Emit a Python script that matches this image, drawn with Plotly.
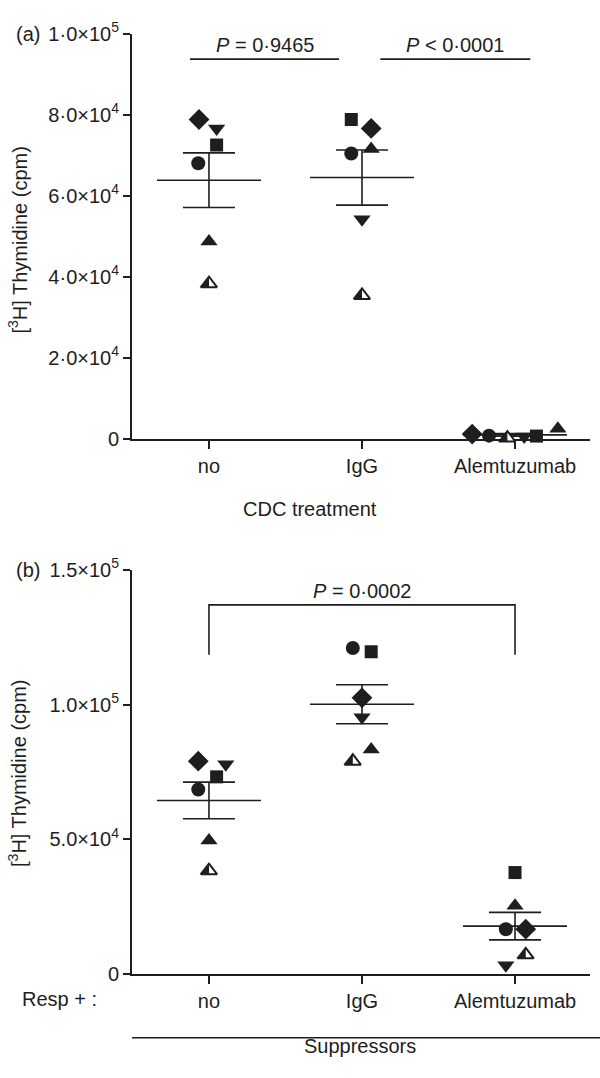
import numpy as np
import plotly.graph_objects as go

W, H = 600, 1078

groups = ['no', 'IgG', 'Alemtuzumab']
donors = ['circle', 'square', 'triangle', 'triangle-down', 'diamond', 'half-triangle']

# panel (a): CDC treatment
a_no = [68000, 72500, 48700, 76600, 78800, 38300]
a_igg = [70400, 78800, 71500, 54200, 76600, 35400]
a_alem = [800, 700, 2500, 600, 1200, 200]
# panel (b): Resp + suppressors
b_no = [68500, 73200, 49600, 77900, 79000, 38400]
b_igg = [121000, 119600, 83300, 95300, 102500, 79000]
b_alem = [16700, 37700, 25400, 3300, 16700, 7200]

# horizontal scatter of the points inside each column
a_jit = [[-0.07, 0.05, 0.0, 0.05, -0.065, 0.0],
         [-0.07, -0.07, 0.06, 0.0, 0.06, 0.0],
         [-0.17, 0.14, 0.28, 0.06, -0.28, -0.05]]
b_jit = [[-0.07, 0.05, 0.0, 0.11, -0.07, 0.0],
         [-0.06, 0.06, 0.06, 0.0, 0.0, -0.06],
         [-0.06, 0.0, 0.0, -0.06, 0.07, 0.07]]

a_ticks = [0, 20000, 40000, 60000, 80000, 100000]
a_ticktext = ['0', '2·0×10<sup>4</sup>', '4·0×10<sup>4</sup>', '6·0×10<sup>4</sup>',
              '8·0×10<sup>4</sup>', '1·0×10<sup>5</sup>']
b_ticks = [0, 50000, 100000, 150000]
b_ticktext = ['0', '5.0×10<sup>4</sup>', '1.0×10<sup>5</sup>', '1.5×10<sup>5</sup>']

INK = '#1e1e1e'
FONT = 'Liberation Sans, Arial, sans-serif'
FS = 20

sym = {'circle': ('circle', 14), 'square': ('square', 13), 'triangle': ('triangle-up', 15),
       'triangle-down': ('triangle-down', 15), 'diamond': ('diamond', 16),
       'half-triangle': ('triangle-up', 14)}

# plot area in pixels
X0, X1 = 132, 590
A_TOP, A_BOT = 20, 435
B_TOP, B_BOT = 569, 983
xrange = [-0.503, 2.49]
a_range = [0, 100000]
b_range = [0, 150000]


def py(px):
    return 1 - px / H


ux = (xrange[1] - xrange[0]) / (X1 - X0)          # x units per pixel
uy = {'y': (a_range[1] - a_range[0]) / (A_BOT - A_TOP),
      'y2': (b_range[1] - b_range[0]) / (B_BOT - B_TOP)}

fig = go.Figure()


def add_panel(fig, data, jit, xa, ya):
    for gi, vals in enumerate(data):
        vals = np.array(vals, dtype=float)
        m = vals.mean()
        sem = vals.std(ddof=1) / np.sqrt(len(vals))
        # mean line and sem bar
        fig.add_trace(go.Scatter(x=[gi - 0.34, gi + 0.34], y=[m, m], mode='lines',
                                 line=dict(color=INK, width=1.6), xaxis=xa, yaxis=ya,
                                 showlegend=False, hoverinfo='skip'))
        for v in (m - sem, m + sem):
            fig.add_trace(go.Scatter(x=[gi - 0.17, gi + 0.17], y=[v, v], mode='lines',
                                     line=dict(color=INK, width=1.6), xaxis=xa, yaxis=ya,
                                     showlegend=False, hoverinfo='skip'))
        fig.add_trace(go.Scatter(x=[gi, gi], y=[m - sem, m + sem], mode='lines',
                                 line=dict(color=INK, width=1.6), xaxis=xa, yaxis=ya,
                                 showlegend=False, hoverinfo='skip'))
        for di, d in enumerate(donors):
            s, size = sym[d]
            xv = gi + jit[gi][di]
            if d == 'half-triangle':
                # open triangle with its left half filled
                fig.add_trace(go.Scatter(x=[xv], y=[vals[di]], mode='markers',
                                         marker=dict(symbol='triangle-up', size=size, color='white',
                                                     line=dict(color=INK, width=2)),
                                         xaxis=xa, yaxis=ya, showlegend=False, cliponaxis=False))
                hs = 10.5
                r = size / 2
                dx = -0.6 * hs / 2
                dy = r / 2 - 0.6 * hs / 2
                fig.add_trace(go.Scatter(x=[xv + dx * ux], y=[vals[di] - dy * uy[ya]],
                                         mode='markers',
                                         marker=dict(symbol='triangle-se', size=hs, color=INK,
                                                     line=dict(width=0)),
                                         xaxis=xa, yaxis=ya, showlegend=False, cliponaxis=False))
            else:
                fig.add_trace(go.Scatter(x=[xv], y=[vals[di]], mode='markers',
                                         marker=dict(symbol=s, size=size, color=INK,
                                                     line=dict(width=0)),
                                         xaxis=xa, yaxis=ya, showlegend=False, cliponaxis=False))


add_panel(fig, [a_no, a_igg, a_alem], a_jit, 'x', 'y')
add_panel(fig, [b_no, b_igg, b_alem], b_jit, 'x2', 'y2')

xdom = [X0 / W, X1 / W]
axis_font = dict(family=FONT, size=FS, color=INK)

xcommon = dict(range=xrange, domain=xdom, tickvals=[0, 1, 2], ticktext=groups,
               showline=True, linecolor=INK, linewidth=2, ticks='outside', ticklen=8,
               tickwidth=2, tickcolor=INK, showgrid=False, zeroline=False,
               tickfont=axis_font, layer='below traces')
ycommon = dict(showline=True, linecolor=INK, linewidth=2, ticks='outside', ticklen=7,
               tickwidth=2, tickcolor=INK, showgrid=False, zeroline=False,
               tickfont=axis_font, layer='below traces')

fig.update_layout(
    width=W, height=H, margin=dict(l=0, r=0, t=0, b=0),
    paper_bgcolor='white', plot_bgcolor='white',
    font=dict(family=FONT, color=INK),
    xaxis=dict(anchor='y', **xcommon),
    yaxis=dict(anchor='x', domain=[py(A_BOT), py(A_TOP)], range=a_range,
               tickvals=a_ticks, ticktext=a_ticktext, **ycommon),
    xaxis2=dict(anchor='y2', **xcommon),
    yaxis2=dict(anchor='x2', domain=[py(B_BOT), py(B_TOP)], range=b_range,
                tickvals=b_ticks, ticktext=b_ticktext, **ycommon),
)

# significance bars, panel (a)
p_a = [(-0.124, 0.85, '<i>P</i> = 0·9465'), (1.12, 2.1, '<i>P</i> < 0·0001')]
for x0, x1, txt in p_a:
    fig.add_shape(type='line', xref='x', yref='y', x0=x0, x1=x1, y0=93700, y1=93700,
                  line=dict(color=INK, width=1.6))
    fig.add_annotation(xref='x', yref='y', x=(x0 + x1) / 2, y=93700, text=txt,
                       showarrow=False, yanchor='bottom', yshift=1,
                       font=dict(family=FONT, size=FS, color=INK))

# bracket, panel (b)
bx = [0, 0, 2, 2]
by = [118500, 137000, 137000, 118500]
fig.add_trace(go.Scatter(x=bx, y=by, mode='lines', line=dict(color=INK, width=1.6),
                         xaxis='x2', yaxis='y2', showlegend=False, hoverinfo='skip'))
fig.add_annotation(xref='x2', yref='y2', x=1, y=137000, text='<i>P</i> = 0·0002',
                   showarrow=False, yanchor='bottom', yshift=1,
                   font=dict(family=FONT, size=FS, color=INK))

ann_font = dict(family=FONT, size=FS, color=INK)
fig.add_annotation(xref='paper', yref='paper', x=14 / W, y=py(20), text='(a)',
                   showarrow=False, xanchor='left', yanchor='middle', font=ann_font)
fig.add_annotation(xref='paper', yref='paper', x=14 / W, y=py(569), text='(b)',
                   showarrow=False, xanchor='left', yanchor='middle', font=ann_font)
ytitle = '[<sup>3</sup>H] Thymidine (cpm)'
fig.add_annotation(xref='paper', yref='paper', x=18 / W, y=py(232), text=ytitle,
                   textangle=-90, showarrow=False, xanchor='center', yanchor='middle',
                   font=ann_font)
fig.add_annotation(xref='paper', yref='paper', x=18 / W, y=py(778), text=ytitle,
                   textangle=-90, showarrow=False, xanchor='center', yanchor='middle',
                   font=ann_font)
fig.add_annotation(xref='paper', yref='paper', x=310 / W, y=py(507), text='CDC treatment',
                   showarrow=False, font=ann_font)
fig.add_annotation(xref='paper', yref='paper', x=20 / W, y=py(1022), text='Resp + :',
                   showarrow=False, xanchor='left', font=ann_font)
fig.add_shape(type='line', xref='paper', yref='paper', x0=X0 / W, x1=1.0,
              y0=py(1048), y1=py(1048), line=dict(color=INK, width=1.6))
fig.add_annotation(xref='paper', yref='paper', x=360 / W, y=py(1070), text='Suppressors',
                   showarrow=False, font=ann_font)

fig.write_html("out.html", config={'displayModeBar': False},
               post_script="document.body.style.margin='0';")
